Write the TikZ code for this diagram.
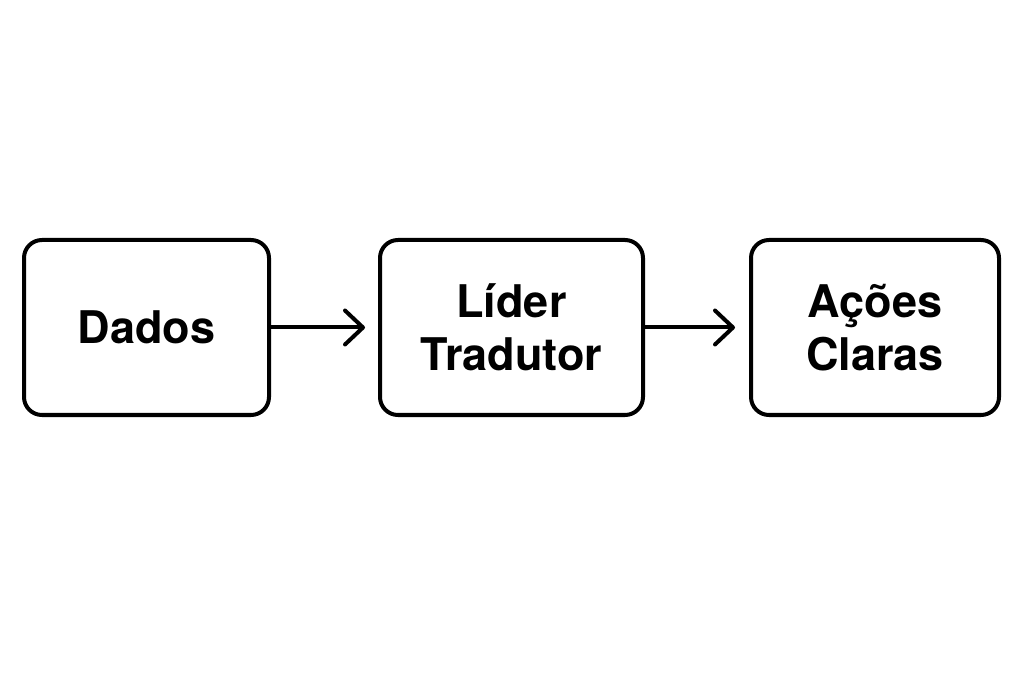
\documentclass[tikz,border=0pt]{standalone}
\usepackage{fontspec}
\setmainfont{TeX Gyre Heros}
\usetikzlibrary{arrows.meta}
\tikzset{
  box/.style={draw=black, line width=4pt, rounded corners=18pt, align=center,
    font=\bfseries\fontsize{45}{53}\selectfont, inner sep=0pt},
  conn/.style={line width=4pt, line cap=round, -{Straight Barb[length=18pt,width=34pt,line cap=round,line join=round]}}
}
\begin{document}
\begin{tikzpicture}[x=1pt,y=1pt]
\useasboundingbox (0,0) rectangle (1024,683);
\node[box, minimum width=245pt, minimum height=175pt] (b1) at (146.5,355.5) {Dados};
\node[box, minimum width=263pt, minimum height=175pt] (b2) at (511.5,355.5) {Líder\\Tradutor};
\node[box, minimum width=248pt, minimum height=175pt] (b3) at (875,355.5) {Ações\\Claras};
\draw[conn] (b1.east) -- ([xshift=-13pt]b2.west);
\draw[conn] (b2.east) -- ([xshift=-14pt]b3.west);
\end{tikzpicture}
\end{document}
